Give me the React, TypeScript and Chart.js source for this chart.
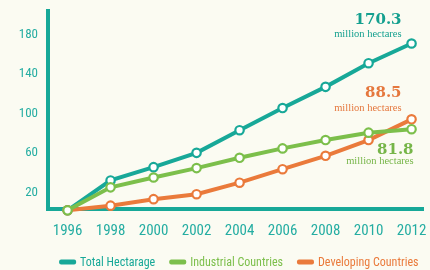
import React, { useEffect, useRef } from "react";
import { Chart, registerables } from "chart.js";

Chart.register(...registerables);

const years = [1996, 1998, 2000, 2002, 2004, 2006, 2008, 2010, 2012];
const totalHectarage = [1.7, 32, 45.5, 60, 83, 105.5, 127, 151, 171];
const industrialCountries = [1.7, 25, 35, 44.5, 55, 64.5, 73, 80.5, 84];
const developingCountries = [1.7, 6.4, 13, 18, 29.7, 43.4, 57, 73, 94];
const seriesNames = ["Total Hectarage", "Industrial Countries", "Developing Countries"];
const endValueLabels = ["170.3", "81.8", "88.5"];
const endUnitLabel = "million hectares";
const yTickValues = [20, 60, 100, 140, 180];

const TEAL = "#17a898";
const GREEN = "#7cbf4b";
const ORANGE = "#ea7a3b";
const TICK_COLOR = "#24ada2";
const BG = "#fbfbf2";
const NARROW = "'Liberation Sans Narrow', 'Roboto Condensed', 'DejaVu Sans Condensed', Roboto, sans-serif";

const colors = [TEAL, GREEN, ORANGE];
const textColors = ["#14a08f", "#76b548", "#e5773d"];
// offsets of the end annotations relative to the last point: [dx (right edge), dyValue, dyUnit]
const annoOffsets = [
  [-10, -23, -9],
  [2, 21, 32],
  [-10, -26, -11.5],
];

const annotationPlugin = {
  id: "endAnnotations",
  afterDatasetsDraw(chart: any) {
    const ctx = chart.ctx;
    ctx.save();
    ctx.textAlign = "right";
    ctx.textBaseline = "middle";
    chart.data.datasets.forEach((ds: any, i: number) => {
      const meta = chart.getDatasetMeta(i);
      const last = meta.data[meta.data.length - 1];
      if (!last) return;
      const [dx, dv, du] = annoOffsets[i];
      ctx.fillStyle = textColors[i];
      ctx.font = "bold 15px 'DejaVu Serif', serif";
      ctx.fillText(endValueLabels[i], last.x + dx, last.y + dv);
      ctx.font = "10.5px 'Liberation Serif', serif";
      ctx.fillText(endUnitLabel, last.x + dx, last.y + du);
    });
    ctx.restore();
  },
};

const legendPlugin = {
  id: "customLegend",
  afterDraw(chart: any) {
    const ctx = chart.ctx;
    const area = chart.chartArea;
    ctx.save();
    ctx.font = "12px " + NARROW;
    ctx.textBaseline = "middle";
    ctx.textAlign = "left";
    const marker = 17;
    const gap = 4;
    const itemGap = 14;
    const widths = seriesNames.map((n) => ctx.measureText(n).width);
    const total = widths.reduce((a, w) => a + marker + gap + w, 0) + itemGap * (seriesNames.length - 1);
    let x = (area.left + area.right) / 2 + 3 - total / 2;
    const y = chart.height - 8;
    seriesNames.forEach((n, i) => {
      ctx.fillStyle = colors[i];
      ctx.beginPath();
      ctx.roundRect(x, y - 2.5, marker, 5, 2);
      ctx.fill();
      ctx.fillStyle = colors[i];
      ctx.fillText(n, x + marker + gap, y + 0.5);
      x += marker + gap + widths[i] + itemGap;
    });
    ctx.restore();
  },
};

function makeDataset(label: string, values: number[], color: string, order: number) {
  return {
    label,
    data: years.map((y, i) => ({ x: y, y: values[i] })),
    borderColor: color,
    backgroundColor: "#ffffff",
    borderWidth: 4,
    pointRadius: 4.2,
    pointBorderWidth: 2.2,
    pointBackgroundColor: "#ffffff",
    pointBorderColor: color,
    tension: 0,
    clip: false as any,
    order,
  };
}

export default function App() {
  const canvasRef = useRef<HTMLCanvasElement | null>(null);

  useEffect(() => {
    if (!canvasRef.current) return;
    const chart = new Chart(canvasRef.current, {
      type: "line",
      data: {
        datasets: [
          makeDataset(seriesNames[0], totalHectarage, TEAL, 2),
          makeDataset(seriesNames[1], industrialCountries, GREEN, 0),
          makeDataset(seriesNames[2], developingCountries, ORANGE, 1),
        ],
      },
      options: {
        animation: false,
        responsive: false,
        layout: { padding: { top: 11, right: 0, bottom: 30, left: 0 } },
        plugins: {
          legend: { display: false },
          tooltip: { enabled: false },
        },
        scales: {
          x: {
            type: "linear",
            min: 1995.09,
            max: 2012.56,
            afterBuildTicks: (scale: any) => {
              scale.ticks = years.map((v) => ({ value: v }));
            },
            afterFit: (scale: any) => {
              scale.height = 31;
              scale.paddingLeft = 0;
              scale.paddingRight = 0;
            },
            grid: { display: false, drawTicks: false },
            border: { display: true, color: TEAL, width: 4 },
            ticks: {
              autoSkip: false,
              maxRotation: 0,
              padding: 13,
              color: TICK_COLOR,
              font: { family: NARROW, size: 15 },
              callback: (v: any) => String(v),
            },
          },
          y: {
            type: "linear",
            min: 3,
            max: 204,
            afterBuildTicks: (scale: any) => {
              scale.ticks = yTickValues.map((v) => ({ value: v }));
            },
            afterFit: (scale: any) => {
              scale.width = 48;
              scale.paddingTop = 0;
              scale.paddingBottom = 0;
            },
            grid: { display: false, drawTicks: false },
            border: { display: true, color: TEAL, width: 4 },
            ticks: {
              padding: 10,
              color: TICK_COLOR,
              font: { family: NARROW, size: 13 },
              callback: (v: any) => String(v),
            },
          },
        },
      } as any,
      plugins: [annotationPlugin, legendPlugin],
    });
    return () => chart.destroy();
  }, []);

  return (
    <div
      style={{
        position: "fixed",
        left: 0,
        top: 0,
        width: 430,
        height: 270,
        background: BG,
      }}
    >
      <canvas ref={canvasRef} width={430} height={270} style={{ display: "block" }} />
    </div>
  );
}
